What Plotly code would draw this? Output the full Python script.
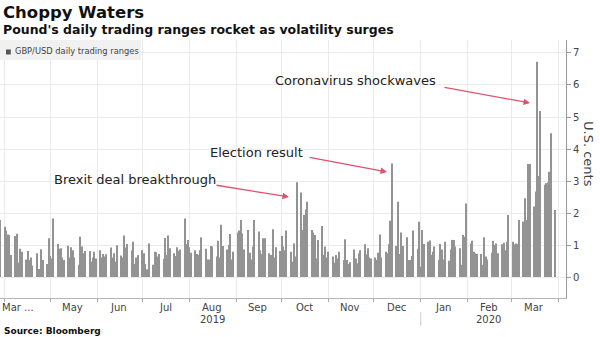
import pandas as pd
import plotly.graph_objects as go

# ---------------- data (GBP/USD daily trading range, U.S. cents) ----------------
mar19 = [1.78]
apr19 = [1.57, 1.45, 1.33, 1.31, 0.69, 1.28, 1.35, 0.45, 0.88, 0.79, 0.55, 0.81, 0.53, 0.61, 0.36,
         0.74, 0.25, 0.25, 0.87, 0.53, 0.41, 1.21]
may19 = [0.66, 0.58, 1.83, 1.03, 0.88, 0.90, 0.61, 0.53, 0.98, 0.61, 0.93, 0.84, 0.61, 0.38, 1.26,
         0.95, 0.74, 0.81, 0.81, 0.48, 0.61, 0.79, 0.58]
jun19 = [0.84, 0.61, 0.72, 0.64, 0.71, 0.92, 0.61, 0.74, 0.48, 0.99, 0.67, 0.61, 1.30, 0.92, 1.03,
         0.84, 1.10, 0.41, 0.61, 0.69]
jul19 = [0.84, 0.74, 0.41, 0.24, 1.05, 0.38, 0.79, 0.77, 0.64, 0.72, 0.57, 1.22, 0.69, 1.30, 0.90,
         0.74, 0.66, 0.93, 0.82, 0.86, 1.83, 1.03, 1.16]
aug19 = [0.93, 0.76, 0.84, 0.72, 0.69, 0.84, 1.24, 0.88, 0.55, 0.55, 0.97, 0.95, 0.64, 1.13, 0.61,
         1.63, 0.97, 0.86, 1.00, 1.34, 0.55, 0.79]
sep19 = [1.39, 1.45, 1.78, 1.36, 0.86, 1.47, 0.76, 0.55, 0.95, 1.78, 1.42, 0.84, 0.72, 1.21, 1.21,
         0.74, 0.69, 1.49, 0.61, 0.93, 0.81]
oct19 = [1.28, 0.95, 0.84, 1.45, 0.79, 0.48, 1.05, 0.64, 2.96, 2.64, 1.47, 1.94, 2.11, 2.35, 1.47,
         1.39, 1.31, 0.58, 1.16, 1.59, 0.69, 0.95, 0.60]
nov19 = [0.79, 0.64, 0.45, 0.69, 0.58, 0.79, 0.53, 1.18, 0.53, 0.41, 0.46, 0.86, 0.58, 0.43, 0.74,
         0.84, 1.02, 0.71, 0.90, 0.61, 0.58]
dec19 = [0.61, 0.53, 0.76, 1.33, 0.61, 0.79, 0.74, 1.02, 1.76, 3.55, 0.97, 2.35, 0.72, 1.39, 0.97,
         1.24, 0.53, 0.53, 0.66, 1.45, 0.88, 1.73]
jan20 = [0.32, 1.47, 1.03, 1.10, 1.14, 0.69, 0.79, 0.95, 0.53, 1.03, 0.86, 0.55, 1.10, 0.51, 0.86,
         1.16, 1.16, 0.95, 0.90, 0.38, 1.31, 1.26, 2.30]
feb20 = [1.05, 1.13, 0.79, 0.74, 0.72, 0.72, 0.38, 1.24, 0.64, 0.55, 0.76, 1.13, 1.00, 1.05, 0.74,
         1.02, 1.07, 0.84, 1.10, 1.94]
mar20 = [1.10, 1.02, 1.05, 1.03, 1.78, 1.73, 2.46, 1.78, 3.53, 3.53, 2.20, 2.67, 6.73, 3.16, 5.19,
         2.88, 2.93, 2.95, 3.29, 4.49, 2.09]

ranges = (mar19 + apr19 + may19 + jun19 + jul19 + aug19 + sep19 + oct19 + nov19 + dec19
          + jan20 + feb20 + mar20)
dates = pd.bdate_range("2019-03-29", "2020-03-30")
assert len(dates) == len(ranges)

month_starts = [d.strftime("%Y-%m-%d") for d in pd.date_range("2019-04-01", "2020-04-01", freq="MS")]
month_labels = ["May", "Jun", "Jul", "Aug", "Sep", "Oct", "Nov", "Dec", "Jan", "Feb", "Mar"]
month_label_dates = ["2019-05-16", "2019-06-15", "2019-07-16", "2019-08-16", "2019-09-15",
                     "2019-10-16", "2019-11-15", "2019-12-16", "2020-01-16", "2020-02-15",
                     "2020-03-16"]
first_label = "Mar ..."
year_labels = ["2019", "2020"]
year_label_dates = ["2019-08-16", "2020-02-15"]
y_ticks = [0, 1, 2, 3, 4, 5, 6, 7]

title = "Choppy Waters"
subtitle = "Pound's daily trading ranges rocket as volatility surges"
legend_label = "GBP/USD daily trading ranges"
source = "Source: Bloomberg"
y_title = "U.S. cents"
callouts = ["Brexit deal breakthrough", "Election result", "Coronavirus shockwaves"]

# ---------------- layout geometry (pixels) ----------------
W, H = 600, 337
L, R, T, B = 0, 34, 40, 39
PW, PH = W - L - R, H - T - B
FONT = "DejaVu Sans"


def px(x):
    return (x - L) / PW


def py(y):
    return (H - B - y) / PH


fig = go.Figure()
fig.add_trace(go.Bar(
    x=dates, y=ranges, name=legend_label,
    marker=dict(color="#939393", line=dict(width=0)),
    width=0.72 * 86400000, showlegend=False,
))

ann = []
# titles
ann.append(dict(text="<b>%s</b>" % title, x=px(1), y=py(12.4), xref="paper", yref="paper",
                xanchor="left", yanchor="middle", showarrow=False,
                font=dict(family=FONT, size=16.5, color="#111")))
ann.append(dict(text="<b>%s</b>" % subtitle, x=px(1), y=py(30), xref="paper", yref="paper",
                xanchor="left", yanchor="middle", showarrow=False,
                font=dict(family=FONT, size=12.5, color="#111")))
ann.append(dict(text="<b>%s</b>" % source, x=px(2), y=py(331), xref="paper", yref="paper",
                xanchor="left", yanchor="middle", showarrow=False,
                font=dict(family=FONT, size=9, color="#111")))
# legend text
ann.append(dict(text=legend_label, x=px(12.5), y=py(51.5), xref="paper", yref="paper",
                xanchor="left", yanchor="middle", showarrow=False,
                font=dict(family=FONT, size=8.3, color="#444")))
# month labels
ann.append(dict(text=first_label, x=0, y=py(307), xref="paper", yref="paper",
                xanchor="left", yanchor="middle", showarrow=False,
                font=dict(family=FONT, size=10, color="#444")))
for lab, d in zip(month_labels, month_label_dates):
    ann.append(dict(text=lab, x=d, y=py(307), xref="x", yref="paper",
                    xanchor="center", yanchor="middle", showarrow=False,
                    font=dict(family=FONT, size=10, color="#444")))
for lab, d in zip(year_labels, year_label_dates):
    ann.append(dict(text=lab, x=d, y=py(319), xref="x", yref="paper",
                    xanchor="center", yanchor="middle", showarrow=False,
                    font=dict(family=FONT, size=10, color="#444")))
# y title
ann.append(dict(text=y_title, x=px(589), y=py(154), xref="paper", yref="paper",
                xanchor="center", yanchor="middle", showarrow=False, textangle=90,
                font=dict(family=FONT, size=13, color="#444")))
# callouts
callout_pos = [(52, 179), (208, 152), (273, 80.5)]
arrow_heads = [(289, 197), (387, 172), (530, 103)]
arrow_tails = [(215, 185), (308, 157), (443, 87)]
for txt, (tx, ty) in zip(callouts, callout_pos):
    ann.append(dict(text=txt, x=px(tx), y=py(ty), xref="paper", yref="paper",
                    xanchor="left", yanchor="middle", showarrow=False,
                    font=dict(family=FONT, size=13, color="#222")))
for (hx, hy), (tx, ty) in zip(arrow_heads, arrow_tails):
    ann.append(dict(text="", x=px(hx), y=py(hy), xref="paper", yref="paper",
                    ax=tx - hx, ay=ty - hy, showarrow=True, arrowhead=2, arrowsize=1,
                    arrowwidth=1.3, arrowcolor="#e0506f", standoff=0, startstandoff=0))

shapes = [
    dict(type="rect", xref="paper", yref="paper", x0=px(0), x1=px(141), y0=py(60), y1=py(40),
         fillcolor="#f1f1f1", line=dict(width=0), layer="above"),
    dict(type="rect", xref="paper", yref="paper", x0=px(6), x1=px(10.8), y0=py(54.5), y1=py(49.5),
         fillcolor="#555", line=dict(width=0), layer="above"),
    dict(type="line", xref="x", yref="paper", x0="2020-01-01", x1="2020-01-01",
         y0=py(312), y1=py(326), line=dict(color="#cfcfcf", width=1)),
]

fig.update_layout(
    width=W, height=H, margin=dict(l=L, r=R, t=T, b=B),
    paper_bgcolor="white", plot_bgcolor="white",
    annotations=ann, shapes=shapes, showlegend=False,
    xaxis=dict(type="date", range=["2019-03-28 18:00", "2020-04-06 02:00"],
               tickvals=month_starts, showticklabels=False, ticks="outside", ticklen=3,
               tickcolor="#aaa", showgrid=True, gridcolor="#ebebeb", gridwidth=1,
               showline=True, linecolor="#b5b5b5", zeroline=False, fixedrange=True),
    yaxis=dict(side="right", range=[-0.656, 7.406], tickvals=y_ticks, ticks="outside",
               ticklen=4, tickcolor="#999", showline=True, linecolor="#999",
               showgrid=True, gridcolor="#ebebeb", zeroline=False,
               tickfont=dict(family=FONT, size=10, color="#444")),
)

fig.write_html("out.html")
